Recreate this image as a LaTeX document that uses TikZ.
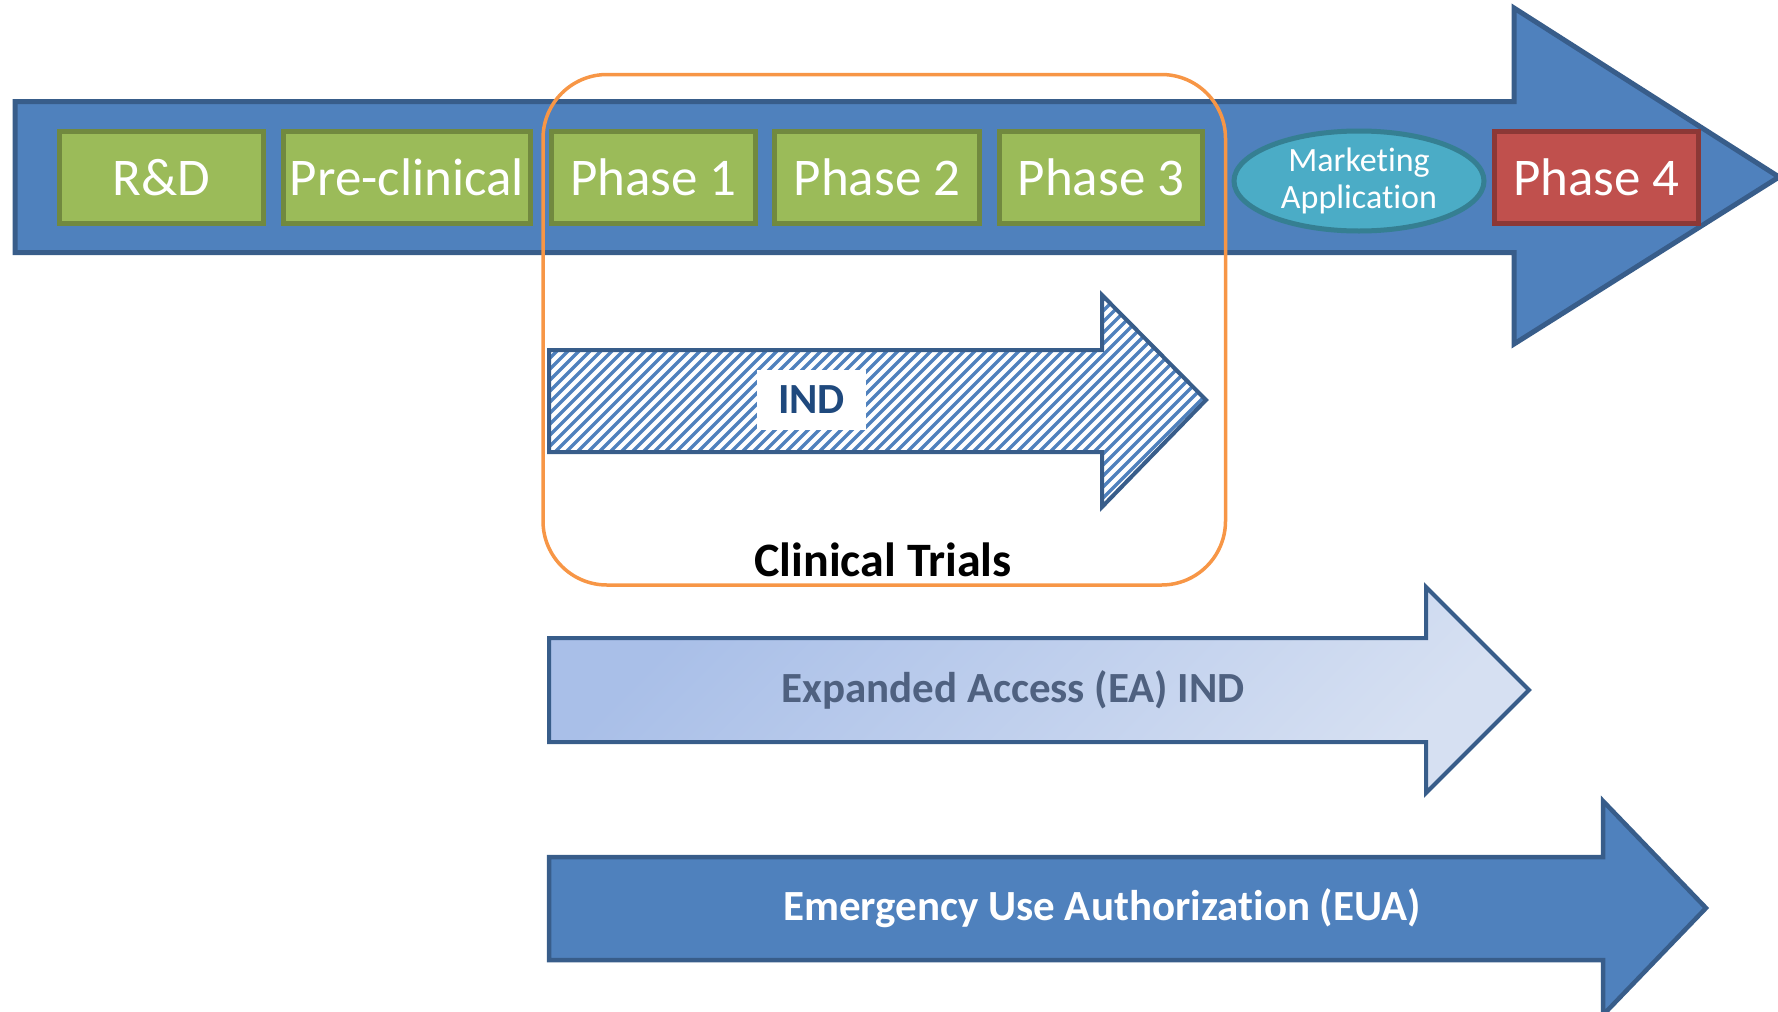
\documentclass[tikz,border=0pt]{standalone}
\usepackage{fontspec}
\setmainfont{Carlito}[Ligatures=NoCommon]
\usetikzlibrary{shapes.geometric}

\definecolor{flowfill}{HTML}{4F81BD}
\definecolor{flowline}{HTML}{385D8A}
\definecolor{greenfill}{HTML}{9BBB59}
\definecolor{greenline}{HTML}{71893F}
\definecolor{tealfill}{HTML}{4BACC6}
\definecolor{tealline}{HTML}{357F92}
\definecolor{redfill}{HTML}{C0504D}
\definecolor{redline}{HTML}{8C3836}
\definecolor{trialorange}{HTML}{F79646}
\definecolor{indtext}{HTML}{1F497D}
\definecolor{eatext}{HTML}{4F6180}
\definecolor{ealeft}{HTML}{A9BFE8}
\definecolor{earight}{HTML}{D6E0F2}

\begin{document}
\begin{tikzpicture}[x=1pt,y=-1pt,
  flowarrow/.style={draw=flowline, line width=5pt, line join=miter, fill=flowfill},
  stagebox/.style={draw=greenline, fill=greenfill, line width=5pt, minimum height=92pt,
    inner sep=0pt, text=white, font=\fontsize{53}{60}\selectfont},
  laterbox/.style={stagebox, draw=redline, fill=redfill},
  appoval/.style={ellipse, draw=tealline, fill=tealfill, line width=5pt, minimum width=250pt,
    minimum height=100pt, inner sep=0pt, text=white, align=center,
    font=\fontsize{34}{37}\selectfont},
  hatchline/.style={flowfill, line width=3.5pt},
  arrowoutline/.style={draw=flowline, line width=4pt, line join=miter},
  softarrow/.style={arrowoutline, left color=ealeft, right color=earight, shading angle=45},
  boldlabel/.style={font=\fontsize{43}{50}\selectfont\bfseries, inner sep=0pt}
]
\useasboundingbox (0,0) rectangle (1778,1012);

% development pipeline arrow
\draw[flowarrow] (15,101.5) -- (1514,101.5) -- (1514,8) -- (1779,177) -- (1514,344)
  -- (1514,252.5) -- (15,252.5) -- cycle;

% stages along the pipeline
\node[stagebox, minimum width=204pt] (rd)  at (161.5,177.5) {R\&D};
\node[stagebox, minimum width=247pt] (pre) at (407,177.5) {Pre-clinical};
\node[stagebox, minimum width=204pt] (p1)  at (653.5,177.5) {Phase 1};
\node[stagebox, minimum width=205pt] (p2)  at (877,177.5) {Phase 2};
\node[stagebox, minimum width=203pt] (p3)  at (1101,177.5) {Phase 3};
\node[appoval] (ma) at (1359,181) {Marketing\\Application};
\node[laterbox, minimum width=204pt] (p4) at (1596.5,177.5) {Phase 4};

% investigational new drug arrow, hatched
\begin{scope}
  \clip (549,350) -- (1102,350) -- (1102,295) -- (1206,400) -- (1102,507)
    -- (1102,452) -- (549,452) -- cycle;
  \foreach \k in {300,311,...,1215}
    \draw[hatchline] (\k,520) -- (\k+240,280);
\end{scope}
\draw[arrowoutline] (549,350) -- (1102,350) -- (1102,295) -- (1206,400) -- (1102,507)
  -- (1102,452) -- (549,452) -- cycle;
\node[fill=white, minimum width=109pt, minimum height=60pt, inner sep=0pt,
  text=indtext, font=\fontsize{43}{50}\selectfont\bfseries] (ind) at (811.5,400) {IND};

% clinical trials frame
\draw[trialorange, line width=3.5pt, rounded corners=64pt] (543,74.5) rectangle (1225.5,585);
\node[boldlabel, anchor=base, font=\fontsize{48}{55}\selectfont\bfseries] (ct) at (883,576) {Clinical Trials};

% expanded access arrow
\draw[softarrow] (549,638) -- (1426,638) -- (1426,587) -- (1529,690) -- (1426,793)
  -- (1426,742) -- (549,742) -- cycle;
\node[boldlabel, text=eatext] (ea) at (1013,690) {Expanded Access (EA) IND};

% emergency use arrow
\draw[flowarrow, line width=4.5pt] (549,857) -- (1603,857) -- (1603,801) -- (1706,908)
  -- (1603,1015) -- (1603,960) -- (549,960) -- cycle;
\node[boldlabel, text=white] (eua) at (1102,908) {Emergency Use Authorization (EUA)};
\end{tikzpicture}
\end{document}
